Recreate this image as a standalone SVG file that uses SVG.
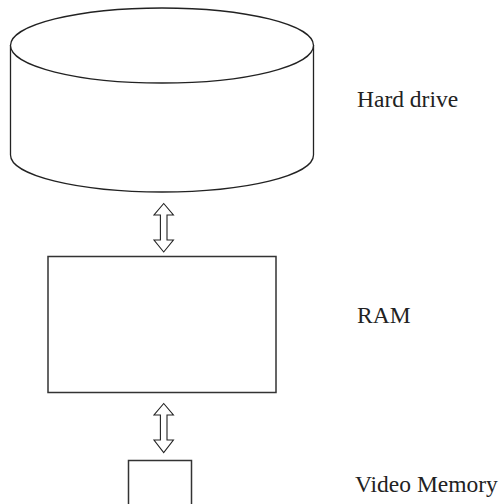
<svg xmlns="http://www.w3.org/2000/svg" width="502" height="504" viewBox="0 0 502 504">
<style>
.s{fill:#fff;stroke:#222;stroke-width:1.3}
.b{fill:#fff;stroke:#333;stroke-width:1.5}
.a{fill:#fff;stroke:#222;stroke-width:1.1;stroke-linejoin:miter}
.t{font-family:"Liberation Serif","Times New Roman",serif;font-size:23.5px;fill:#222}
</style>
<rect width="502" height="504" fill="#fff"/>
<g id="hard-drive">
<path class="s" d="M10.5,45 L10.5,155 A151.5,37 0 0 0 313.5,155 L313.5,45"/>
<ellipse class="s" cx="162" cy="45.5" rx="151.5" ry="37.5"/>
<text class="t" x="357" y="107">Hard drive</text>
</g>
<g id="ram">
<rect class="b" x="48" y="256.5" width="228" height="136"/>
<text class="t" x="357" y="323">RAM</text>
</g>
<g id="video-memory">
<rect class="b" x="128.5" y="460.5" width="63" height="50"/>
<text class="t" x="355" y="492">Video Memory</text>
</g>
<g id="connectors">
<polygon class="a" points="163.7,203.5 154,215 160.4,215 160.4,240 154,240 163.7,252 173.4,240 167,240 167,215 173.4,215"/>
<polygon class="a" points="163.7,403.5 154,415 160.4,415 160.4,440 154,440 163.7,452.5 173.4,440 167,440 167,415 173.4,415"/>
</g>
</svg>
